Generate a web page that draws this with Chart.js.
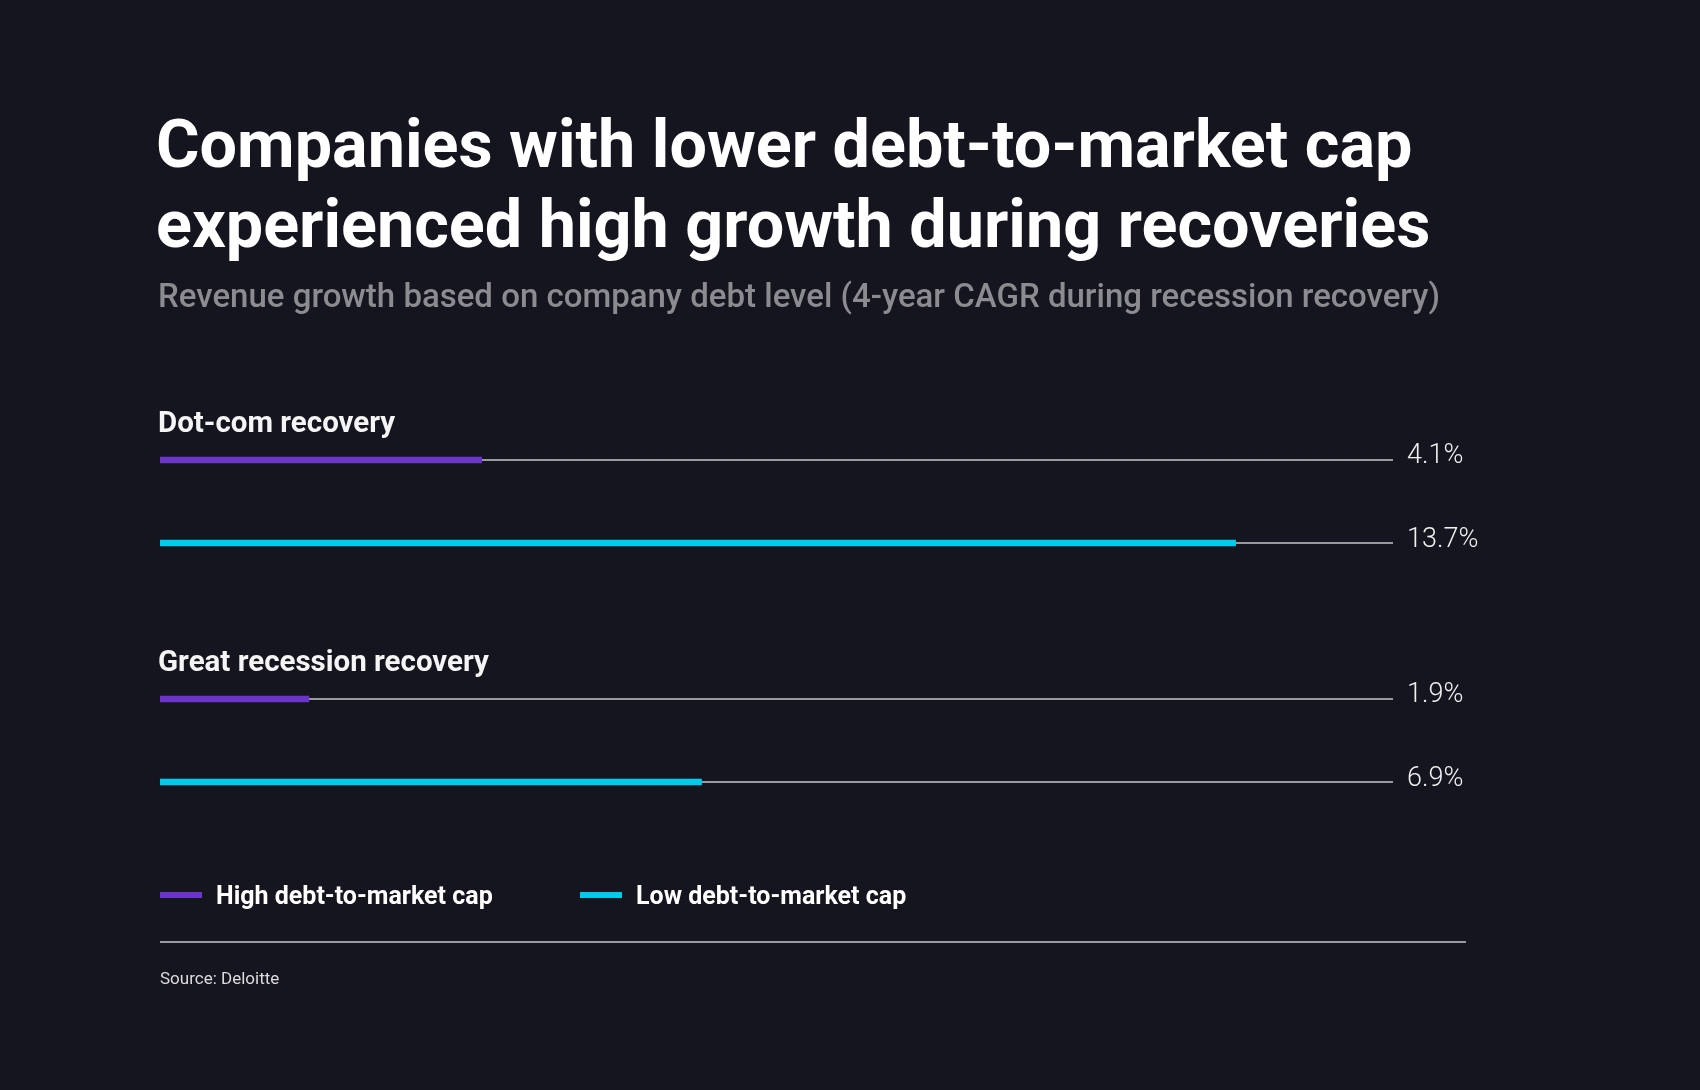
<!DOCTYPE html>
<html>
<head>
<meta charset="utf-8">
<title>Debt-to-market cap and recovery growth</title>
<script src="https://cdn.jsdelivr.net/npm/chart.js@4.4.1/dist/chart.umd.min.js"></script>
<style>
  html, body { margin: 0; padding: 0; background: #15151f; }
  #wrap { position: relative; width: 1700px; height: 1090px; }
</style>
</head>
<body>
<div id="wrap"><canvas id="chart"></canvas></div>
<script>
// data
const groups = ['Dot-com recovery', 'Great recession recovery'];
const seriesNames = ['High debt-to-market cap', 'Low debt-to-market cap'];
const highDebt = [4.1, 1.9];
const lowDebt = [13.7, 6.9];
const axisMax = 15.7;

const titleLines = ['Companies with lower debt-to-market cap', 'experienced high growth during recoveries'];
const subtitle = 'Revenue growth based on company debt level (4-year CAGR during recession recovery)';
const source = 'Source: Deloitte';

const PURPLE = '#6a35c8';
const CYAN = '#00cbea';
const TRACK = '#9a9a9e';
const FONT = 'Roboto, "Noto Sans", sans-serif';

const textPlugin = {
  id: 'texts',
  afterDraw(chart) {
    const ctx = chart.ctx;
    const area = chart.chartArea;
    ctx.save();
    ctx.textAlign = 'left';
    ctx.textBaseline = 'alphabetic';

    // title + subtitle
    ctx.fillStyle = '#ffffff';
    ctx.font = `700 66.5px ${FONT}`;
    ctx.fillText(titleLines[0], 156, 167);
    ctx.fillText(titleLines[1], 156, 247);
    ctx.fillStyle = '#8b8b90';
    ctx.font = `500 33px ${FONT}`;
    ctx.fillText(subtitle, 158, 307);

    // group labels above the first bar of each group
    const first = chart.getDatasetMeta(0);
    ctx.fillStyle = '#f5f5f5';
    ctx.font = `700 29.5px ${FONT}`;
    first.data.forEach((bar, i) => {
      ctx.fillText(groups[i], 158, bar.y - 28);
    });

    // value labels right of the tracks
    ctx.font = `300 27px ${FONT}`;
    ctx.fillStyle = '#f0f0f0';
    [0, 1].forEach(di => {
      const meta = chart.getDatasetMeta(di);
      const vals = chart.data.datasets[di].data;
      meta.data.forEach((bar, i) => {
        ctx.fillText(vals[i].toFixed(1) + '%', area.right + 14, bar.y + 3.5);
      });
    });

    // legend
    const legendX = [160, 580];
    ctx.font = `700 25px ${FONT}`;
    [0, 1].forEach(di => {
      const ds = chart.data.datasets[di];
      ctx.fillStyle = ds.backgroundColor;
      ctx.fillRect(legendX[di], 892, 42, 6);
      ctx.fillStyle = '#ffffff';
      ctx.fillText(ds.label, legendX[di] + 56, 904);
    });

    // divider + source
    ctx.fillStyle = TRACK;
    ctx.fillRect(160, 941, 1306, 2);
    ctx.fillStyle = '#dcdcdc';
    ctx.font = `400 17px ${FONT}`;
    ctx.fillText(source, 160, 984);
    ctx.restore();
  }
};

const barOpts = { categoryPercentage: 0.695, barPercentage: 0.078, borderWidth: 0, order: 1 };
const trackOpts = { categoryPercentage: 0.695, barPercentage: 0.024, borderWidth: 0, order: 2, backgroundColor: TRACK };

new Chart(document.getElementById('chart'), {
  type: 'bar',
  data: {
    labels: groups,
    datasets: [
      { ...barOpts, label: seriesNames[0], data: highDebt, backgroundColor: PURPLE, stack: 'high' },
      { ...barOpts, label: seriesNames[1], data: lowDebt, backgroundColor: CYAN, stack: 'low' },
      { ...trackOpts, label: 'track-high', data: groups.map(() => axisMax), stack: 'high' },
      { ...trackOpts, label: 'track-low', data: groups.map(() => axisMax), stack: 'low' }
    ]
  },
  options: {
    indexAxis: 'y',
    responsive: true,
    maintainAspectRatio: false,
    animation: false,
    layout: { padding: { top: 382, bottom: 230, left: 160, right: 307 } },
    plugins: {
      legend: { display: false },
      tooltip: { enabled: false }
    },
    scales: {
      x: { display: false, min: 0, max: axisMax, stacked: false },
      y: { display: false }
    }
  },
  plugins: [textPlugin]
});
</script>
</body>
</html>
